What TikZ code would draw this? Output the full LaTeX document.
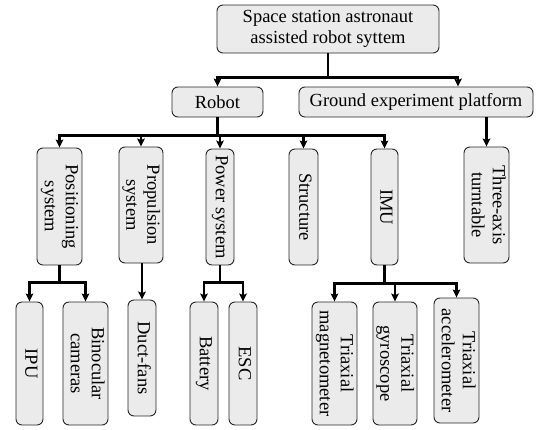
\documentclass[tikz,border=0pt]{standalone}
\usepackage{fontspec}
\setmainfont{Liberation Serif}
\usetikzlibrary{arrows.meta}
\newcommand\vtxt[1]{\rotatebox{-90}{\begin{tabular}{@{}c@{}}#1\end{tabular}}}
\tikzset{
  box/.style={draw=black!85, fill=gray!16, line width=0.9pt, rounded corners=6pt,
    inner sep=0pt, align=center, font=\fontsize{18.5}{21}\selectfont},
  conn/.style={line width=2.2pt, black},
  arr/.style={conn, -{Stealth[length=8pt,width=7.5pt,inset=1.5pt]}},
}
\begin{document}
\begin{tikzpicture}[x=1pt,y=-1pt]
\useasboundingbox (0,0) rectangle (536,429);
% level 0
\node[box, minimum width=222pt, minimum height=48pt] (top) at (328,29) {Space station astronaut\\assisted robot syttem};
% level 1
\node[box, minimum width=91pt, minimum height=30pt] (robot) at (217.5,102) {Robot};
\node[box, minimum width=234pt, minimum height=30pt] (ground) at (416,102) {Ground experiment platform};
% level 2
\node[box, minimum width=45pt, minimum height=117pt] (pos) at (59.5,206.5) {\vtxt{Positioning\\system}};
\node[box, minimum width=44pt, minimum height=116pt] (prop) at (141,205) {\vtxt{Propulsion\\system}};
\node[box, minimum width=28pt, minimum height=116pt] (power) at (220,207) {\vtxt{Power system}};
\node[box, minimum width=29pt, minimum height=116pt] (struct) at (303.5,207) {\vtxt{Structure}};
\node[box, minimum width=27pt, minimum height=116pt] (imu) at (384.5,207) {\vtxt{IMU}};
\node[box, minimum width=45pt, minimum height=116pt] (three) at (486.5,205) {\vtxt{Three-axis\\turntable}};
% level 3
\node[box, minimum width=27pt, minimum height=123pt] (ipu) at (29.5,363.5) {\vtxt{IPU}};
\node[box, minimum width=45pt, minimum height=123pt] (bino) at (85.5,363.5) {\vtxt{Binocular\\cameras}};
\node[box, minimum width=28pt, minimum height=116pt] (duct) at (142,358) {\vtxt{Duct-fans}};
\node[box, minimum width=28pt, minimum height=123pt] (batt) at (204,363.5) {\vtxt{Battery}};
\node[box, minimum width=28pt, minimum height=123pt] (esc) at (243,363.5) {\vtxt{ESC}};
\node[box, minimum width=45pt, minimum height=123pt] (mag) at (334.5,363.5) {\vtxt{Triaxial\\magnetometer}};
\node[box, minimum width=44pt, minimum height=123pt] (gyro) at (395,363.5) {\vtxt{Triaxial\\gyroscope}};
\node[box, minimum width=45pt, minimum height=125pt] (acc) at (456.5,360.5) {\vtxt{Triaxial\\accelerometer}};
% connectors level 0 -> 1
\coordinate (b0) at ([yshift=-24pt]top.south);
\draw[conn] (top.south) -- (b0);
\draw[arr] (b0) -| (robot.north);
\draw[arr] (b0) -| ([xshift=42pt]ground.north);
% robot -> level 2
\coordinate (b1) at ([yshift=-18pt]robot.south);
\draw[conn] (robot.south) -- (b1);
\draw[arr] (b1) -| (pos.north);
\draw[arr] (b1) -| (prop.north);
\draw[arr] (b1) -| (power.north);
\draw[arr] (b1) -| (struct.north);
\draw[arr] (b1) -| (imu.north);
% ground -> three-axis
\draw[arr] (ground.south -| three.north) -- (three.north);
% positioning -> ipu, bino
\coordinate (b2) at ([yshift=-17pt]pos.south);
\draw[conn] (pos.south) -- (b2);
\draw[arr] (b2) -| (ipu.north);
\draw[arr] (b2) -| (bino.north);
% propulsion -> duct
\draw[arr] (prop.south -| duct.north) -- (duct.north);
% power -> battery, esc
\coordinate (b3) at ([yshift=-17pt]power.south);
\draw[conn] (power.south) -- (b3);
\draw[arr] (b3) -| (batt.north);
\draw[arr] (b3) -| (esc.north);
% imu -> sensors
\coordinate (b4) at ([yshift=-18pt]imu.south);
\draw[conn] (imu.south) -- (b4);
\draw[arr] (b4) -| (mag.north);
\draw[arr] (b4) -| (gyro.north);
\draw[arr] (b4) -| (acc.north);
\end{tikzpicture}
\end{document}
